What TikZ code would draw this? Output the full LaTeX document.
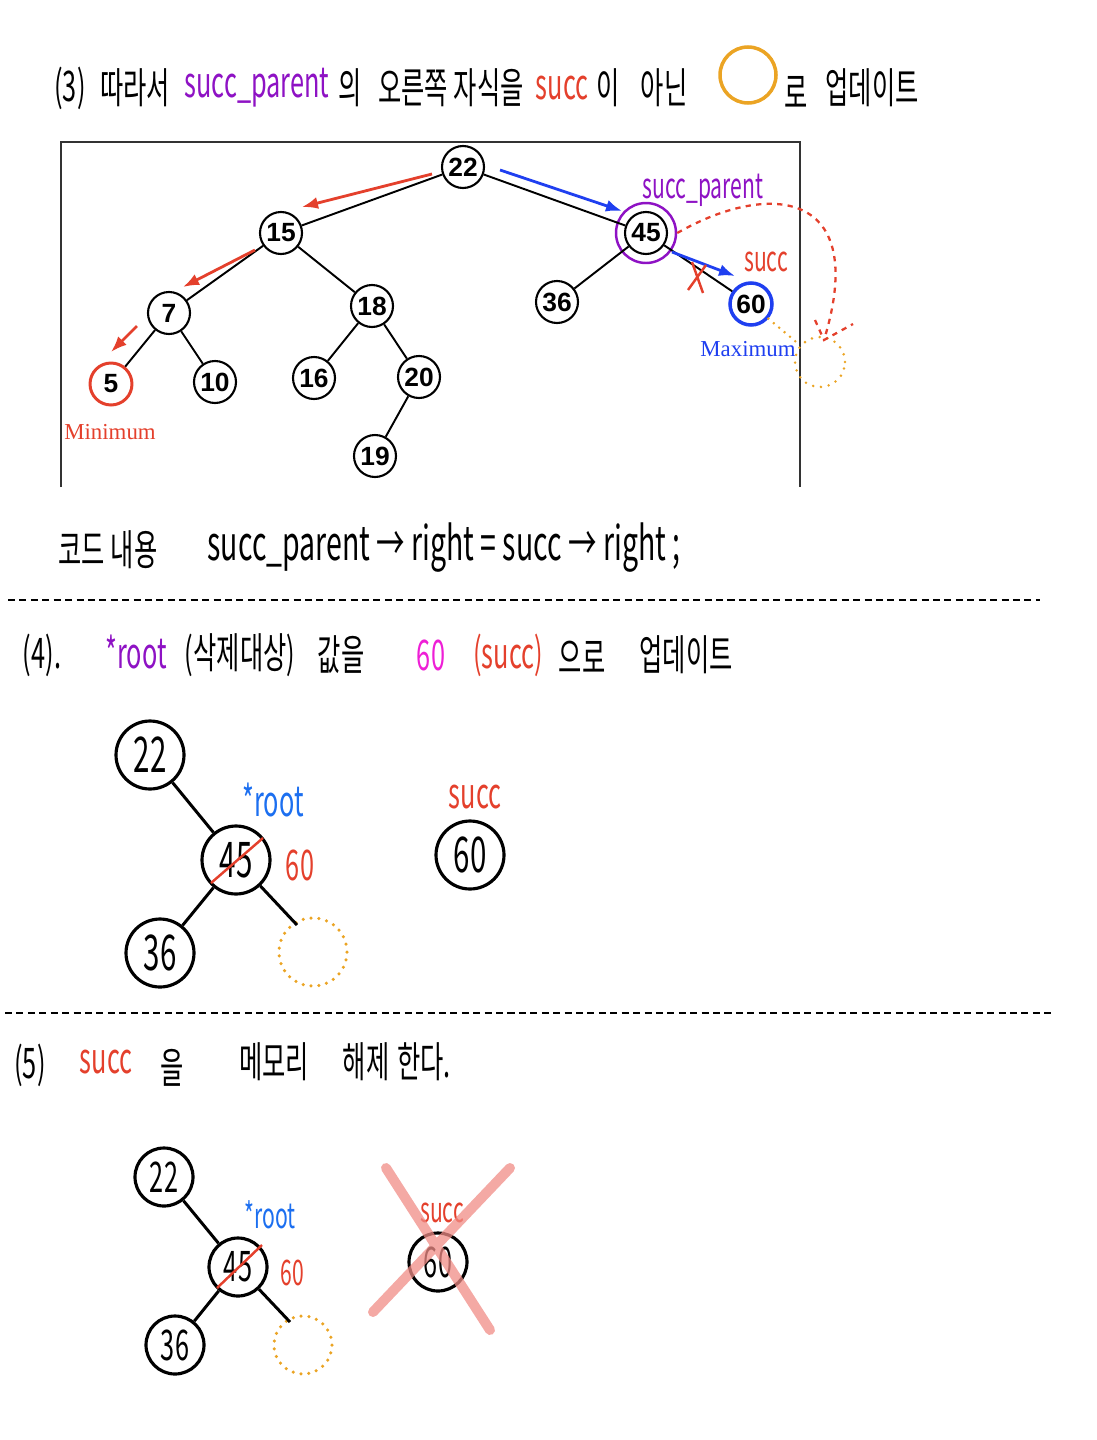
\documentclass[tikz,border=0pt]{standalone}
\usepackage{fontspec}
\usepackage{tikz}
\usetikzlibrary{arrows.meta,calc}
\setmainfont{Liberation Serif}
\newfontfamily\handfont[FakeStretch=0.6]{Noto Sans CJK KR}
\newfontfamily\baumfont{Liberation Sans}
\definecolor{lila}{HTML}{8E12C4}
\definecolor{rot}{HTML}{E4402C}
\definecolor{blau}{HTML}{1F3FF0}
\definecolor{himmel}{HTML}{1C6FF0}
\definecolor{orng}{HTML}{EBA424}
\definecolor{magen}{HTML}{EE1FD6}
\definecolor{rahmen}{HTML}{333333}
\definecolor{xrosa}{HTML}{F08C86}
\tikzset{
  knoten/.style={circle,draw,line width=1.2pt,minimum size=0.84cm,inner sep=0pt,font=\baumfont\bfseries\fontsize{15}{15}\selectfont},
  hkreis/.style={circle,draw,line width=1.8pt,minimum size=1.36cm,inner sep=0pt,font=\handfont\fontsize{28}{28}\selectfont},
  kkreis/.style={hkreis,minimum size=1.16cm,font=\handfont\fontsize{24}{24}\selectfont},
  leer/.style={circle,draw=orng,line width=2pt,dash pattern=on 0pt off 4.5pt,line cap=round,inner sep=0pt},
  htext/.style={inner sep=0pt,font=\handfont\fontsize{24}{28}\selectfont},
  ktext/.style={inner sep=0pt,font=\handfont\fontsize{20}{22}\selectfont},
  kante/.style={line width=1.1pt},
  hkante/.style={line width=1.7pt},
  pfr/.style={-{Latex[length=3.2mm,width=2.4mm]},rot,line width=1.6pt},
  pfb/.style={-{Latex[length=3.2mm,width=2.4mm]},blau,line width=1.6pt},
  trenn/.style={line width=0.9pt,dash pattern=on 4pt off 2.5pt},
}
\begin{document}
\begin{tikzpicture}[x=0.02cm,y=-0.02cm]
  \useasboundingbox (0,0) rectangle (1097,1440);
  \node[htext] (t3a) at (70,88) {(3)};
  \node[htext] (t3b) at (135,88) {따라서};
  \node[htext,lila] (t3c) at (257,88) {succ\_parent};
  \node[htext] (t3d) at (350,88) {의};
  \node[htext] (t3e) at (451,88) {오른쪽 자식을};
  \node[htext,rot] (t3f) at (562,88) {succ};
  \node[htext] (t3g) at (608,88) {이};
  \node[htext] (t3h) at (664,88) {아닌};
  \node[circle,draw=orng,line width=2pt,minimum size=1.12cm] (okreis) at (748,75) {};
  \node[htext] (t3i) at (796,92) {로};
  \node[htext] (t3j) at (872,88) {업데이트};
  \draw[rahmen,line width=1.6pt] (61,487) -- (61,142) -- (800,142) -- (800,487);
  \node[knoten] (a22) at (463,167) {22};
  \node[knoten] (a15) at (281,233) {15};
  \node[knoten] (a45) at (646,233) {45};
  \node[knoten] (a7) at (169,313) {7};
  \node[knoten] (a18) at (372,306) {18};
  \node[knoten] (a36) at (557,302) {36};
  \node[knoten,draw=blau,line width=2pt] (a60) at (751,304) {60};
  \node[knoten,draw=rot,line width=1.7pt] (a5) at (111,384) {5};
  \node[knoten] (a10) at (215,382) {10};
  \node[knoten] (a16) at (314,378) {16};
  \node[knoten] (a20) at (419,377) {20};
  \node[knoten] (a19) at (375,456) {19};
  \node[circle,draw=lila,line width=1.4pt,minimum size=1.2cm] (ring) at (a45) {};
  \draw[kante] (a22) -- (a15);
  \draw[kante] (a22) -- (a45);
  \draw[kante] (a15) -- (a7);
  \draw[kante] (a15) -- (a18);
  \draw[kante] (a7) -- (a5);
  \draw[kante] (a7) -- (a10);
  \draw[kante] (a18) -- (a16);
  \draw[kante] (a18) -- (a20);
  \draw[kante] (a20) -- (a19);
  \draw[kante] (a45) -- (a36);
  \draw[kante] (a45) -- (a60);
  \coordinate (r1a) at (432,174);
  \coordinate (r1b) at (302,207);
  \coordinate (r2a) at (255,250);
  \coordinate (r2b) at (183,287);
  \coordinate (r3a) at (137,326);
  \coordinate (r3b) at (111,352);
  \coordinate (b1a) at (500,170);
  \coordinate (b1b) at (622,211);
  \coordinate (b2a) at (672,252);
  \coordinate (b2b) at (735,276);
  \draw[pfr] (r1a) -- (r1b);
  \draw[pfr] (r2a) -- (r2b);
  \draw[pfr] (r3a) -- (r3b);
  \draw[pfb] (b1a) -- (b1b);
  \draw[pfb] (b2a) -- (b2b);
  \draw[rot,line width=1.4pt] (692,262) -- (703,293) (706,265) -- (688,290);
  \node[ktext,lila] (lsp) at (703,190) {succ\_parent};
  \node[ktext,rot] (lsucc) at (766,262) {succ};
  \node[inner sep=0pt,rot,font=\fontsize{13}{13}\selectfont] (lmin) at (110,432) {Minimum};
  \node[inner sep=0pt,blau,font=\fontsize{13}{13}\selectfont] (lmax) at (748,349) {Maximum};
  \node[leer,line width=1.6pt,minimum size=1cm] (hole) at (820,362) {};
  \draw[orng,line width=1.6pt,dash pattern=on 0pt off 4pt,line cap=round] (a60) -- (hole);
  \coordinate (hd) at (824,340);
  \draw[rot,dashed,line width=1.3pt] (ring.east) .. controls (770,180) and (870,190) .. (hd);
  \draw[rot,dashed,line width=1.3pt] (815,320) -- (hd) -- (853,324);
  \node[htext,font=\handfont\fontsize{24}{26}\selectfont] (tk1) at (108,550) {코드 내용};
  \node[htext,font=\handfont\fontsize{27}{30}\selectfont] (tk2) at (444,548) {succ\_parent → right = succ → right ;};
  \draw[trenn] (8,600) -- (1040,600);
  \node[htext] (t4a) at (42,655) {(4).};
  \node[htext,lila] (t4b) at (136,652) {*root};
  \node[htext] (t4c) at (240,655) {(삭제대상)};
  \node[htext] (t4d) at (341,655) {값을};
  \node[htext,magen] (t4e) at (431,655) {60};
  \node[htext,rot] (t4f) at (508,655) {(succ)};
  \node[htext] (t4g) at (582,657) {으로};
  \node[htext] (t4h) at (686,655) {업데이트};
  \node[hkreis] (b22) at (150,755) {22};
  \node[hkreis] (b45) at (236,860) {45};
  \node[hkreis] (b36) at (160,953) {36};
  \node[hkreis] (b60) at (470,855) {60};
  \node[leer,minimum size=1.36cm] (bleer) at (313,952) {};
  \coordinate (bend) at (297,925);
  \draw[hkante] (b22) -- (b45);
  \draw[hkante] (b45) -- (b36);
  \draw[hkante] (b45) -- (bend);
  \draw[rot,line width=1.4pt] ($(b45)+(-25,23)$) -- ($(b45)+(27,-22)$);
  \node[htext,himmel] (broot) at (273,800) {*root};
  \node[htext,rot] (bwert) at (300,865) {60};
  \node[htext,rot] (bsucc) at (475,797) {succ};
  \draw[trenn] (5,1013) -- (1053,1013);
  \node[htext] (t5a) at (30,1065) {(5)};
  \node[htext,rot] (t5b) at (106,1062) {succ};
  \node[htext] (t5c) at (172,1068) {을};
  \node[htext] (t5d) at (274,1062) {메모리};
  \node[htext] (t5e) at (366,1062) {해제};
  \node[htext] (t5f) at (424,1062) {한다.};
  \node[kkreis] (c22) at (164,1177) {22};
  \node[kkreis] (c45) at (238,1267) {45};
  \node[kkreis] (c36) at (175,1345) {36};
  \node[kkreis] (c60) at (438,1262) {60};
  \node[leer,minimum size=1.16cm] (cleer) at (303,1345) {};
  \coordinate (cend) at (290,1322);
  \draw[hkante] (c22) -- (c45);
  \draw[hkante] (c45) -- (c36);
  \draw[hkante] (c45) -- (cend);
  \draw[rot,line width=1.4pt] ($(c45)+(-21,21)$) -- ($(c45)+(24,-22)$);
  \node[ktext,himmel] (croot) at (270,1215) {*root};
  \node[ktext,rot] (cwert) at (292,1273) {60};
  \node[ktext,rot] (csucc) at (442,1213) {succ};
  \draw[xrosa,opacity=0.75,line width=0.2cm,line cap=round] (386,1168) -- (490,1330) (510,1168) -- (373,1312);
\end{tikzpicture}
\end{document}
